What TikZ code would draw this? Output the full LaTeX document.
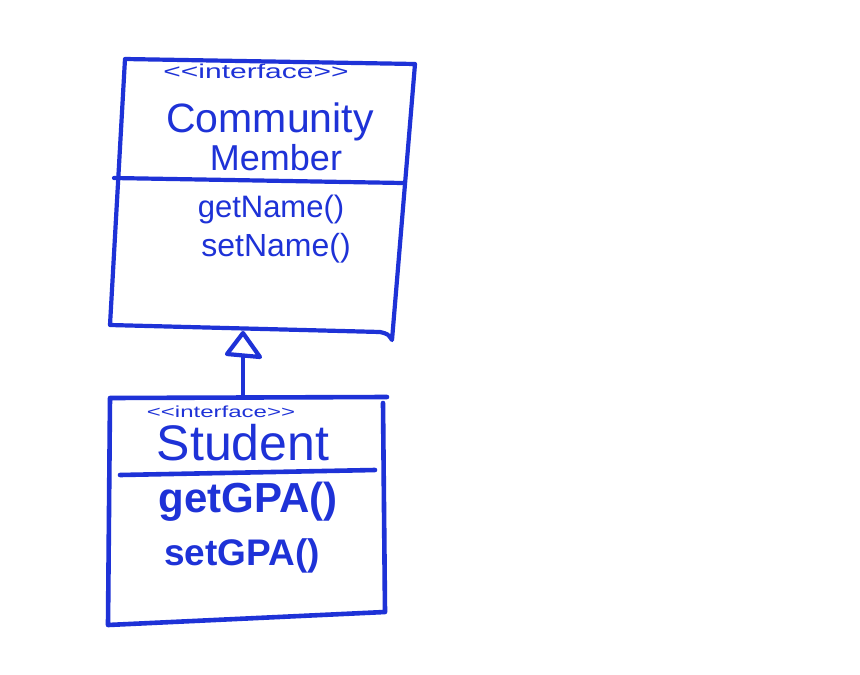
\documentclass[tikz,border=0pt]{standalone}
\usepackage{fontspec}
\setmainfont{Liberation Sans}
\usepackage{graphicx}
\definecolor{ink}{RGB}{30,50,215}
\begin{document}
\begin{tikzpicture}[x=1pt,y=-1pt,
  inkline/.style={draw=ink, line width=4.2pt, line cap=round, line join=round},
  lbl/.style={text=ink, inner sep=0pt, anchor=base}]
\useasboundingbox (0,0) rectangle (860,675);
\fill[white] (0,0) rectangle (860,675);
% top box corners
\coordinate (aTL) at (125,59);
\coordinate (aTR) at (415,64);
\coordinate (aBR) at (392,340);
\coordinate (aBL) at (110,325);
\coordinate (aSL) at (114,178);
\coordinate (aSR) at (403,183);
\draw[inkline] (aTL) -- (aTR) -- (aBR) .. controls (388,334) .. (380,332) -- (aBL) -- cycle;
\draw[inkline] (aSL) -- (aSR);
% bottom box
\coordinate (bTL) at (110,398);
\coordinate (bTR) at (387,397);
\coordinate (bRT) at (383,403);
\coordinate (bRB) at (385,612);
\coordinate (bBL) at (108,625);
\coordinate (bSL) at (120,475);
\coordinate (bSR) at (375,470);
\draw[inkline, line width=4.6pt] (bTR) -- (bTL) -- (bBL) -- (bRB) -- (bRT);
\draw[inkline, line width=4.6pt] (bSL) -- (bSR);
% generalization arrow
\coordinate (tip) at (243,333);
\coordinate (triL) at (227,354);
\coordinate (triR) at (260,357);
\coordinate (stemTop) at (243,356);
\coordinate (stemBot) at (243,397);
\draw[inkline] (stemBot) -- (stemTop);
\draw[inkline, fill=white] (tip) -- (triL) -- (triR) -- cycle;
% texts, top box
\node[lbl] (ia) at (256,78) {\scalebox{1.5}[1]{\fontsize{20}{22}\selectfont <{}<interface>{}>}};
\node[lbl] (cm) at (270,132) {\fontsize{41}{45}\selectfont Community};
\node[lbl] (mb) at (276,170) {\fontsize{36}{40}\selectfont Member};
\node[lbl] (gn) at (271,217) {\fontsize{31}{34}\selectfont getName()};
\node[lbl] (sn) at (276,256) {\fontsize{32}{35}\selectfont setName()};
% texts, bottom box
\node[lbl] (ib) at (221,417) {\scalebox{1.5}[1]{\fontsize{16}{18}\selectfont <{}<interface>{}>}};
\node[lbl] (st) at (243,460) {\fontsize{50}{54}\selectfont Student};
\node[lbl] (gg) at (248,512) {\fontsize{42}{46}\selectfont\bfseries getGPA()};
\node[lbl] (sg) at (242,565) {\fontsize{37}{41}\selectfont\bfseries setGPA()};
\end{tikzpicture}
\end{document}
